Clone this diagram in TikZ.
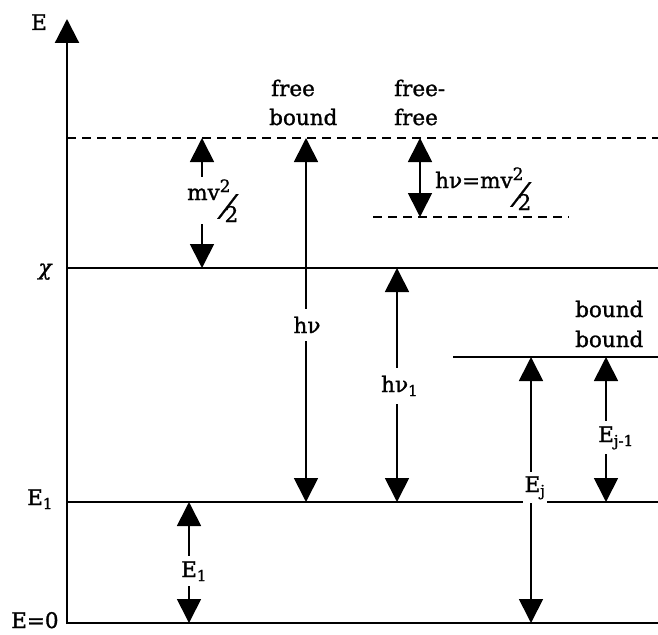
\documentclass[tikz,border=0pt]{standalone}
\usepackage{fontspec}
\setmainfont{DejaVu Serif}
\usetikzlibrary{arrows.meta}
\newcommand{\mvhalf}{mv\raisebox{8pt}{\fontsize{17}{17}\selectfont\addfontfeature{FakeBold=1}2}\kern-12pt\raisebox{-16pt}{\fontsize{30}{30}\selectfont\addfontfeature{FakeSlant=0.45,FakeBold=0.8}/}\kern-4pt\raisebox{-22pt}{2}}
\begin{document}
\begin{tikzpicture}[x=1pt,y=-1pt,
  bigtri/.tip={Triangle[width=24pt,length=24pt]},
  level/.style={line width=2.2pt},
  dlevel/.style={line width=2pt,dash pattern=on 9pt off 6pt},
  trans/.style={line width=1.7pt,bigtri-bigtri},
  txt/.style={font=\fontsize{21.5}{25}\selectfont\addfontfeature{FakeBold=1.2},inner sep=0pt,anchor=base},
  gaplbl/.style={txt,fill=white,inner xsep=2pt,inner ysep=5pt}]
\useasboundingbox (0,0) rectangle (658,634);
% axis
\coordinate (axb) at (67,624);
\coordinate (axt) at (67,19);
\draw[level,-bigtri] (axb) -- (axt);
% levels
\coordinate (dL) at (67,138);  \coordinate (dR) at (658,138);
\coordinate (cL) at (67,268);  \coordinate (cR) at (658,268);
\coordinate (eL) at (67,502);  \coordinate (eR) at (658,502);
\coordinate (zL) at (67,623);  \coordinate (zR) at (658,623);
\coordinate (sL) at (373,217); \coordinate (sR) at (569,217);
\coordinate (bL) at (453,357); \coordinate (bR) at (658,357);
\draw[dlevel] (dL) -- (dR);
\draw[dlevel] (sL) -- (sR);
\draw[level] (cL) -- (cR);
\draw[level] (eL) -- (eR);
\draw[level] (zL) -- (zR);
\draw[level] (bL) -- (bR);
% left labels
\node[txt] (lE) at (39,30) {E};
\node[txt] (lchi) at (45,275) {\itshape\addfontfeature{FakeBold=1.2}χ};
\node[txt,anchor=base west] (lE1) at (27,505) {E\textsubscript{1}};
\node[txt,anchor=base west] (lE0) at (11,628) {E=0};
% header labels
\node[txt,anchor=base west] (fb1) at (271,96) {free};
\node[txt,anchor=base west] (fb2) at (269,125) {bound};
\node[txt,anchor=base west] (ff1) at (394,96) {free-};
\node[txt,anchor=base west] (ff2) at (394,125) {free};
\node[txt,anchor=base west] (bb1) at (575,317) {bound};
\node[txt,anchor=base west] (bb2) at (575,347) {bound};
% transitions
\coordinate (m1) at (202,138); \coordinate (m2) at (202,268);
\coordinate (h1) at (306,138); \coordinate (h2) at (306,502);
\coordinate (f1) at (420,138); \coordinate (f2) at (420,217);
\coordinate (k1) at (397,268); \coordinate (k2) at (397,502);
\coordinate (j1) at (531,357); \coordinate (j2) at (531,623);
\coordinate (i1) at (606,357); \coordinate (i2) at (606,502);
\coordinate (g1) at (189,502); \coordinate (g2) at (189,623);
\draw[trans] (m1) -- (m2);
\draw[trans] (h1) -- (h2);
\draw[trans] (f1) -- (f2);
\draw[trans] (k1) -- (k2);
\draw[trans] (j1) -- (j2);
\draw[trans] (i1) -- (i2);
\draw[trans] (g1) -- (g2);
% transition labels
\node[gaplbl,anchor=base west,inner ysep=2pt] (lm) at (185,200) {\mvhalf};
\node[gaplbl,inner ysep=8pt] (lh) at (307,333) {hν};
\node[gaplbl,anchor=base west,inner ysep=8pt] (lk) at (379,392) {hν\textsubscript{1}};
\node[txt,anchor=base west] (lf) at (435,188) {hν=\mvhalf};
\node[gaplbl,inner ysep=4pt] (lj) at (535,492) {E\textsubscript{j}};
\node[gaplbl,anchor=base west,inner ysep=5pt] (li) at (596,442) {E\textsubscript{j-1}};
\node[gaplbl,anchor=base west,inner ysep=5pt] (lg) at (179,577) {E\textsubscript{1}};
\end{tikzpicture}
\end{document}
